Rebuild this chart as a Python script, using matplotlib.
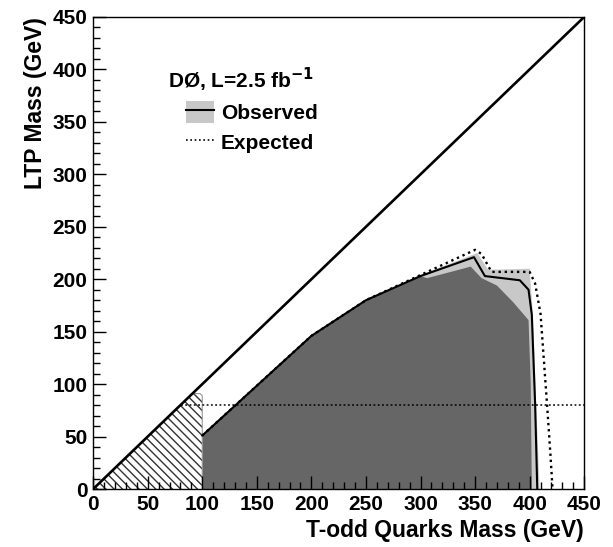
import matplotlib
matplotlib.use("Agg")
import matplotlib.pyplot as plt
from matplotlib.patches import Patch
from matplotlib.lines import Line2D
from matplotlib.ticker import MultipleLocator

plt.rcParams['font.family'] = ['Liberation Sans', 'DejaVu Sans']
plt.rcParams['font.weight'] = 'bold'
plt.rcParams['hatch.linewidth'] = 1.0

# Observed limit contour (T-odd quark mass, LTP mass)
obs_x = [100, 200, 250, 300, 349, 359, 391, 399, 402, 405, 407]
obs_y = [51, 146, 180, 203, 221, 203, 199, 190, 166, 82, 0]

# Expected limit contour
exp_x = [100, 200, 250, 300, 350, 356, 365, 400, 405, 410, 416, 419, 421]
exp_y = [51, 146, 180, 204, 228, 224, 207, 207, 196, 167, 80, 34, 0]

# Light gray band (outer edge)
band_x = [100, 100, 200, 250, 300, 352, 362, 400, 403, 406, 409, 409]
band_y = [0, 51, 146, 180, 204, 225, 209, 210, 166, 82, 5, 0]

# Dark gray excluded region
dark_x = [100, 100, 200, 250, 300, 306, 346, 356, 370, 385, 399, 401, 402]
dark_y = [0, 51, 146, 180, 203, 201, 212, 201, 194, 178, 161, 100, 0]

# Hatched region (previous limit)
hatch_x = [0, 91, 98, 100, 100]
hatch_y = [0, 91, 91, 89, 0]

w_mass = 80.4
axis_max = 450

fig = plt.figure(figsize=(6.13, 5.47), dpi=100)
ax = fig.add_axes([0.152, 0.106, 0.801, 0.863])

ax.fill(band_x, band_y, color='#c8c8c8', lw=0, zorder=1)
ax.fill(dark_x, dark_y, color='#666666', lw=0, zorder=1.1)
ax.fill(hatch_x, hatch_y, facecolor='white', edgecolor='#333333', hatch='\\\\\\\\', lw=0, zorder=1)
ax.plot(hatch_x[1:], hatch_y[1:], color='#999999', lw=0.8, zorder=1.2)

ax.plot([0, axis_max], [0, axis_max], color='black', lw=1.9, zorder=3)
ax.plot([w_mass, axis_max], [w_mass, w_mass], color='black', lw=1.1,
        linestyle=(0, (1.2, 1.6)), zorder=3)
ax.plot(exp_x, exp_y, color='black', lw=1.7, linestyle=(0, (1.0, 1.6)), zorder=3)
ax.plot(obs_x, obs_y, color='black', lw=1.5, zorder=3.1)

ax.set_xlim(0, axis_max)
ax.set_ylim(0, axis_max)
ax.xaxis.set_major_locator(MultipleLocator(50))
ax.xaxis.set_minor_locator(MultipleLocator(10))
ax.yaxis.set_major_locator(MultipleLocator(50))
ax.yaxis.set_minor_locator(MultipleLocator(10))
ax.tick_params(which='both', direction='in', top=False, right=False,
               labelsize=15, color='black', zorder=4)
ax.tick_params(which='major', length=9.5, width=1.0, pad=4)
ax.tick_params(which='minor', length=5, width=1.0)
for lab in ax.get_xticklabels() + ax.get_yticklabels():
    lab.set_fontweight('bold')
for s in ax.spines.values():
    s.set_linewidth(1.0)
    s.set_zorder(5)

ax.set_xlabel('T-odd Quarks Mass (GeV)', fontsize=16.5, fontweight='bold', loc='right')
ax.set_ylabel('LTP Mass (GeV)', fontsize=16.5, fontweight='bold', loc='top')

ax.text(0.153, 0.866, 'DØ, L=2.5 fb$^{\\mathbf{-1}}$', transform=ax.transAxes,
        fontsize=15, fontweight='bold', ha='left', va='center')

handles = [(Patch(facecolor='#c8c8c8', edgecolor='none'), Line2D([], [], color='black', lw=1.5)),
           Line2D([], [], color='black', lw=1.2, linestyle=(0, (1.0, 1.6)))]
leg = ax.legend(handles, ['Observed', 'Expected'],
                loc='upper left', bbox_to_anchor=(0.16, 0.852), frameon=False,
                handlelength=1.35, handleheight=1.2,
                handletextpad=0.3, labelspacing=0.38, borderpad=0.2,
                prop={'weight': 'bold', 'size': 15})

fig.savefig('out.png', dpi=100)
